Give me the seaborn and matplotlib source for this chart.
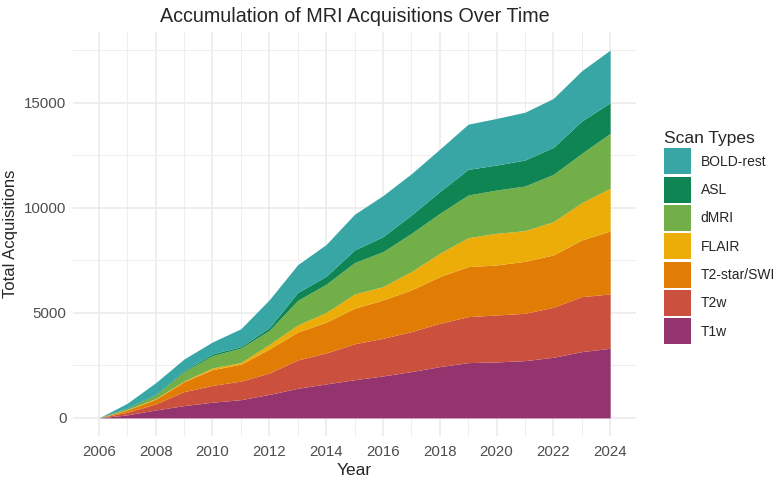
import numpy as np
import pandas as pd
import matplotlib
matplotlib.use("Agg")
import matplotlib.pyplot as plt
from matplotlib.patches import Patch
from matplotlib.ticker import MultipleLocator
import seaborn as sns

# Yearly stacked totals per scan type
years = list(range(2006, 2025))
t1w = [0, 145, 381, 587, 750, 870, 1120, 1412, 1619, 1820, 2000, 2206, 2444, 2634, 2666, 2730, 2888, 3158, 3317]
t2w = [0, 125, 286, 667, 800, 885, 1020, 1349, 1476, 1710, 1793, 1904, 2063, 2190, 2238, 2253, 2381, 2619, 2587]
t2star = [0, 110, 222, 476, 750, 805, 1140, 1329, 1465, 1690, 1825, 1984, 2222, 2381, 2380, 2477, 2491, 2698, 2999]
flair = [0, 20, 31, 30, 80, 80, 220, 338, 460, 680, 635, 873, 1111, 1381, 1508, 1459, 1587, 1777, 2031]
dmri = [0, 60, 175, 446, 590, 690, 670, 1172, 1350, 1500, 1666, 1825, 1904, 2031, 2063, 2126, 2254, 2349, 2619]
asl = [0, 30, 35, 48, 80, 70, 130, 375, 375, 600, 714, 873, 1032, 1222, 1190, 1238, 1285, 1539, 1460]
bold = [0, 210, 550, 556, 570, 850, 1330, 1325, 1515, 1700, 1957, 1965, 2024, 2151, 2220, 2277, 2333, 2397, 2507]

scan_types = ["T1w", "T2w", "T2-star/SWI", "FLAIR", "dMRI", "ASL", "BOLD-rest"]
colours = ["#94346E", "#CC503E", "#E17C05", "#EDAD08", "#73AF48", "#0F8554", "#38A6A5"]

df = pd.DataFrame({"Year": years, "T1w": t1w, "T2w": t2w, "T2-star/SWI": t2star,
                   "FLAIR": flair, "dMRI": dmri, "ASL": asl, "BOLD-rest": bold})

sns.set_theme(style="whitegrid")
plt.rcParams["font.family"] = ["Liberation Sans", "DejaVu Sans"]

fig = plt.figure(figsize=(7.8, 4.8), dpi=100)
ax = fig.add_axes([0.094, 0.091, 0.721, 0.843])

ax.stackplot(df["Year"], *[df[s] for s in scan_types], colors=colours, linewidth=0)

top = df[scan_types].sum(axis=1).max()
xpad = (years[-1] - years[0]) * 0.05
ax.set_xlim(years[0] - xpad, years[-1] + xpad)
ax.set_ylim(-top * 0.05, top * 1.05)

ax.xaxis.set_major_locator(MultipleLocator(2))
ax.xaxis.set_minor_locator(MultipleLocator(1))
ax.yaxis.set_major_locator(MultipleLocator(5000))
ax.yaxis.set_minor_locator(MultipleLocator(2500))
ax.grid(which="major", color="#EBEBEB", linewidth=1.2)
ax.grid(which="minor", color="#EEEEEE", linewidth=0.8)
ax.set_axisbelow(True)
ax.tick_params(which="both", length=0, labelsize=10.8, labelcolor="#4D4D4D")
ax.tick_params(axis="y", pad=5)
ax.tick_params(axis="x", pad=6)
sns.despine(ax=ax, left=True, bottom=True)

ax.set_title("Accumulation of MRI Acquisitions Over Time", fontsize=14.2, pad=7)
ax.set_xlabel("Year", fontsize=12.5, labelpad=3)
ax.set_ylabel("Total Acquisitions", fontsize=12, labelpad=4)

handles = [Patch(facecolor=c, edgecolor="none", label=s) for s, c in zip(scan_types, colours)][::-1]
fig.legend(handles=handles, title="Scan Types", loc="center left", bbox_to_anchor=(0.851, 0.505),
           frameon=False, fontsize=10, title_fontsize=12.5, alignment="left",
           handlelength=1.95, handleheight=2.5, labelspacing=0.17, handletextpad=0.7,
           borderpad=0, borderaxespad=0)

fig.savefig("out.png", dpi=100)
